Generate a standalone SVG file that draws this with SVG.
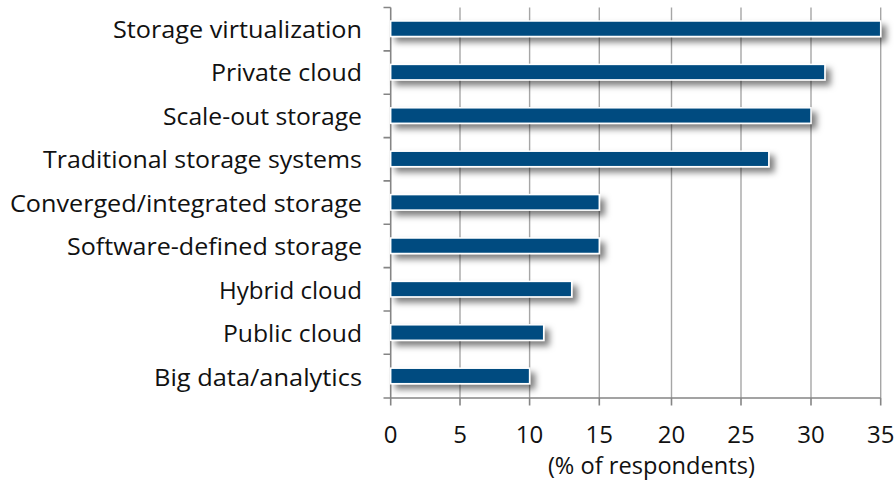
<svg xmlns="http://www.w3.org/2000/svg" width="896" height="480" viewBox="0 0 896 480">
<defs>
<style>
.lbl{font-family:"Open Sans","Liberation Sans",sans-serif;font-size:23px;fill:#111;text-anchor:end}
.num{font-family:"Open Sans","Liberation Sans",sans-serif;font-size:24px;fill:#111;text-anchor:middle}
.grid{stroke:#a6a6a6;stroke-width:1.4}
.axis{stroke:#858585;stroke-width:1.6;fill:none}
.bar{fill:#004C80;stroke:#fff;stroke-width:1.5;filter:url(#sh)}
</style>
<filter id="sh" x="-5%" y="-60%" width="120%" height="280%">
<feDropShadow dx="5" dy="5" stdDeviation="3" flood-color="#000" flood-opacity="0.5"/>
</filter>
</defs>
<rect width="896" height="480" fill="#fff"/>
<g id="grid">
<line class="grid" x1="460" y1="7.5" x2="460" y2="398"/>
<line class="grid" x1="529.6" y1="7.5" x2="529.6" y2="398"/>
<line class="grid" x1="599.3" y1="7.5" x2="599.3" y2="398"/>
<line class="grid" x1="671.5" y1="7.5" x2="671.5" y2="398"/>
<line class="grid" x1="741" y1="7.5" x2="741" y2="398"/>
<line class="grid" x1="811" y1="7.5" x2="811" y2="398"/>
<line class="grid" x1="880.7" y1="7.5" x2="880.7" y2="398"/>
</g>
<g id="axes">
<path class="axis" d="M390.7 7.5V398H880.7"/>
<path class="axis" d="M383.5 7.5H390.7M383.5 50.9H390.7M383.5 94.2H390.7M383.5 137.6H390.7M383.5 180.9H390.7M383.5 224.3H390.7M383.5 267.6H390.7M383.5 311H390.7M383.5 354.3H390.7M383.5 398H390.7"/>
<path class="axis" d="M390.7 398V405.5M460 398V405.5M529.6 398V405.5M599.3 398V405.5M671.5 398V405.5M741 398V405.5M811 398V405.5M880.7 398V405.5"/>
</g>
<g id="bars">
<rect id="bar-storage-virtualization" class="bar" x="390.7" y="21" width="490" height="15.5"/>
<rect id="bar-private-cloud" class="bar" x="390.7" y="64.4" width="434.2" height="15.5"/>
<rect id="bar-scale-out" class="bar" x="390.7" y="107.8" width="420.3" height="15.5"/>
<rect id="bar-traditional" class="bar" x="390.7" y="151.2" width="378.1" height="15.5"/>
<rect id="bar-converged" class="bar" x="390.7" y="194.6" width="208.6" height="15.5"/>
<rect id="bar-software-defined" class="bar" x="390.7" y="238" width="208.6" height="15.5"/>
<rect id="bar-hybrid-cloud" class="bar" x="390.7" y="281.4" width="181" height="15.5"/>
<rect id="bar-public-cloud" class="bar" x="390.7" y="324.8" width="153" height="15.5"/>
<rect id="bar-big-data" class="bar" x="390.7" y="368.2" width="138.9" height="15.5"/>
</g>
<g id="labels">
<text class="lbl" x="362" y="38.3" textLength="249" lengthAdjust="spacingAndGlyphs">Storage virtualization</text>
<text class="lbl" x="362" y="81.1" textLength="151" lengthAdjust="spacingAndGlyphs">Private cloud</text>
<text class="lbl" x="362" y="124.6" textLength="199" lengthAdjust="spacingAndGlyphs">Scale-out storage</text>
<text class="lbl" x="362" y="168" textLength="319" lengthAdjust="spacingAndGlyphs">Traditional storage systems</text>
<text class="lbl" x="362" y="211.5" textLength="352" lengthAdjust="spacingAndGlyphs">Converged/integrated storage</text>
<text class="lbl" x="362" y="255" textLength="295" lengthAdjust="spacingAndGlyphs">Software-defined storage</text>
<text class="lbl" x="362" y="298.5" textLength="143" lengthAdjust="spacingAndGlyphs">Hybrid cloud</text>
<text class="lbl" x="362" y="342.3" textLength="139" lengthAdjust="spacingAndGlyphs">Public cloud</text>
<text class="lbl" x="362" y="386" textLength="208" lengthAdjust="spacingAndGlyphs">Big data/analytics</text>
</g>
<g id="ticks">
<text class="num" x="390.7" y="442.7">0</text>
<text class="num" x="460" y="442.7">5</text>
<text class="num" x="529.6" y="442.7">10</text>
<text class="num" x="599.3" y="442.7">15</text>
<text class="num" x="671.5" y="442.7">20</text>
<text class="num" x="741" y="442.7">25</text>
<text class="num" x="811" y="442.7">30</text>
<text class="num" x="880.7" y="442.7">35</text>
<text class="num" x="651.4" y="473.5" textLength="207" lengthAdjust="spacingAndGlyphs">(% of respondents)</text>
</g>
</svg>
